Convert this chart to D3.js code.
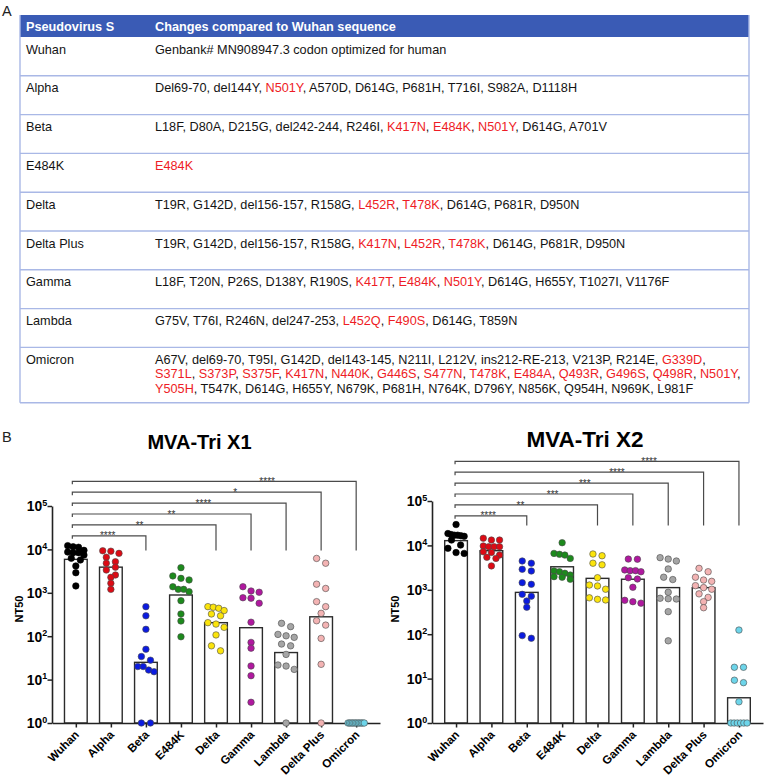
<!DOCTYPE html>
<html>
<head>
<meta charset="utf-8">
<script src="https://d3js.org/d3.v7.min.js"></script>
<style>
html,body{margin:0;padding:0;background:#fff;}
svg{display:block;}
</style>
</head>
<body>
<svg id="fig" width="766" height="777"></svg>
<script>
// ---------------- DATA ----------------
const tableHeader = ["Pseudovirus S", "Changes compared to Wuhan sequence"];
const tableVariants = ["Wuhan","Alpha","Beta","E484K","Delta","Delta Plus","Gamma","Lambda","Omicron"];
// [..] = mutation printed in red; each inner array entry is one printed line
const tableChanges = [
  ["Genbank# MN908947.3 codon optimized for human"],
  ["Del69-70, del144Y, [N501Y], A570D, D614G, P681H, T716I, S982A, D1118H"],
  ["L18F, D80A, D215G, del242-244, R246I, [K417N], [E484K], [N501Y], D614G, A701V"],
  ["[E484K]"],
  ["T19R, G142D, del156-157, R158G, [L452R], [T478K], D614G, P681R, D950N"],
  ["T19R, G142D, del156-157, R158G, [K417N], [L452R], [T478K], D614G, P681R, D950N"],
  ["L18F, T20N, P26S, D138Y, R190S, [K417T], [E484K], [N501Y], D614G, H655Y, T1027I, V1176F"],
  ["G75V, T76I, R246N, del247-253, [L452Q], [F490S], D614G, T859N"],
  ["A67V, del69-70, T95I, G142D, del143-145, N211I, L212V, ins212-RE-213, V213P, R214E, [G339D],",
   "[S371L], [S373P], [S375F], [K417N], [N440K], [G446S], [S477N], [T478K], [E484A], [Q493R], [G496S], [Q498R], [N501Y],",
   "[Y505H], T547K, D614G, H655Y, N679K, P681H, N764K, D796Y, N856K, Q954H, N969K, L981F"]
];

const categories = ["Wuhan","Alpha","Beta","E484K","Delta","Gamma","Lambda","Delta Plus","Omicron"];
const dotColors = ["#000000","#dd0a14","#0b1be0","#1c8a1c","#fbe40c","#b0189f","#a5a5a5","#f3b3b3","#6dd5ea"];
const yTickValues = [1,10,100,1000,10000,100000];

// MVA-Tri X1 (NT50 per animal)
const x1Wuhan     = [12200,11500,11200,9500,8400,8400,8700,7400,6250,5700,4150,2900,1440];
const x1Alpha     = [9300,9100,8100,6600,5200,4800,3900,3350,2570,2270,1660,1200];
const x1Beta      = [480,295,144,50,34,28,20,20,16.6,15.2,1,1];
const x1E484K     = [3800,2450,2150,1980,1380,1200,1200,1060,660,325,224,97];
const x1Delta     = [480,465,440,390,325,295,205,190,160,107,60,46];
const x1Gamma     = [1380,1100,1030,770,750,575,210,72,53,20.6,12.3,3];
const x1Lambda    = [198,166,110,102,94,66,60,38,21.7,20.5,17.2,1];
const x1DeltaPlus = [6200,4800,1580,1260,625,480,336,227,180,89,22.5,1];
const x1Omicron   = [1,1,1,1,1,1,1,1,1,1,1,1];
const x1GeoMean   = [5900,3900,25,890,205,157,42,280,1];
const x1Stars     = ["****","**","**","****","*","****"];

// MVA-Tri X2
const x2Wuhan     = [29500,18500,17500,17000,17000,16500,16000,13200,10200,8600,6900,6600];
const x2Alpha     = [14500,13200,13200,9700,9350,9350,9350,7200,6950,6050,5400,5100,3450];
const x2Beta      = [4450,3970,2900,2650,1450,1330,790,720,560,405,93,81];
const x2E484K     = [11500,6600,6300,6050,5100,2650,2550,2350,2150,1980,1920,1730];
const x2Delta     = [6400,5850,3970,3650,1870,1280,1220,1030,660,610,590];
const x2Gamma     = [4920,4880,2800,2700,2700,2550,1870,1750,1140,580,540,500];
const x2Lambda    = [5300,4920,4450,2950,1920,1700,880,645,630,620,322,71];
const x2DeltaPlus = [3040,2550,1920,1660,1550,1240,1120,1030,810,675,540,395];
const x2Omicron   = [124,18,18,9.2,8.1,3,1,1,1,1,1,1];
const x2GeoMean   = [12800,7600,875,3300,1810,1730,1120,1120,3.7];
const x2Stars     = ["****","**","***","***","****","****"];

const comparedTo  = ["Beta","Delta","Gamma","Lambda","Delta Plus","Omicron"];

// ---------------- DRAW ----------------
const FONT = "'Liberation Sans', Arial, Helvetica, sans-serif";
const RED = "#ee1c25", INK = "#141414";
const svg = d3.select("#fig");
svg.append("rect").attr("width",766).attr("height",777).attr("fill","#fff");

// panel letters
svg.append("text").attr("x",2).attr("y",15.5).text("A")
  .style("font-family",FONT).style("font-size","14.5px").attr("fill","#222");
svg.append("text").attr("x",2).attr("y",441.5).text("B")
  .style("font-family",FONT).style("font-size","14.5px").attr("fill","#222");

// ---------- table ----------
(function drawTable(){
  const tX0 = 20, tX1 = 749, c1 = 26, c2 = 155;
  const headTop = 15, headBot = 37, rowH = 38.8, lineH = 14.4, base = 16.5;
  const g = svg.append("g");
  g.append("rect").attr("x",tX0).attr("y",headTop).attr("width",tX1-tX0).attr("height",headBot-headTop)
    .attr("fill","#3a5bb5");
  g.selectAll("text.head").data(tableHeader).join("text")
    .attr("x",(d,i)=> i===0 ? c1 : c2).attr("y",headTop+15.5)
    .attr("fill","#fff").style("font-family",FONT).style("font-weight","bold").style("font-size","12.7px")
    .text(d=>d);

  function rich(sel, str){
    str.split(/(\[[^\]]*\])/).filter(s=>s.length).forEach(s=>{
      const red = s[0]==="[";
      sel.append("tspan").attr("fill", red?RED:INK).text(red ? s.slice(1,-1) : s);
    });
  }
  let top = headBot;
  const seps = [];
  tableVariants.forEach((v,i)=>{
    const lines = tableChanges[i];
    const h = Math.max(rowH, base + (lines.length-1)*lineH + 10);
    g.append("text").attr("x",c1).attr("y",top+base).attr("fill",INK)
      .style("font-family",FONT).style("font-size","12.7px").text(v);
    lines.forEach((ln,j)=>{
      const t = g.append("text").attr("x",c2).attr("y",top+base+j*lineH)
        .attr("xml:space","preserve").style("white-space","pre")
        .style("font-family",FONT).style("font-size","12.7px");
      rich(t, ln);
    });
    top += h;
    seps.push(top);
  });
  g.selectAll("line.sep").data(seps).join("line")
    .attr("x1",tX0).attr("x2",tX1).attr("y1",d=>d).attr("y2",d=>d)
    .attr("stroke","#a9b8e6").attr("stroke-width",1.4);
  [tX0,tX1].forEach(xx=>{
    g.append("line").attr("x1",xx).attr("x2",xx).attr("y1",headTop).attr("y2",top)
      .attr("stroke","#a9b8e6").attr("stroke-width",1.4);
  });
})();

// ---------- dot plots ----------
function swarm(vals, y, cx, r){
  const pts = vals.map(v=>({v, py:y(v)})).sort((a,b)=>a.py-b.py);
  const groups = [];
  pts.forEach(p=>{
    const g = groups[groups.length-1];
    if (g && p.py - g[0].py < 2*r*0.85) g.push(p); else groups.push([p]);
  });
  groups.forEach(g=>{
    const k = g.length;
    const s = k>1 ? Math.min(2.8*r, 5*r/(k-1)) : 0;
    g.forEach((p,i)=>{ p.px = cx + (i-(k-1)/2)*s; });
  });
  return pts;
}

function drawPlot(o){
  const g = svg.append("g");
  const x = d3.scalePoint().domain(categories).range([o.x0, o.x1]).padding(0.68);
  const y = d3.scaleLog().domain([1,1e5]).range([o.yBot, o.yTop]);
  const barW = 22.7, r = 3.25;

  // title
  g.append("text").attr("x",o.titleX).attr("y",o.titleY).attr("text-anchor","middle")
    .style("font-family",FONT).style("font-weight","bold").style("font-size",o.titleSize+"px")
    .attr("fill","#000").text(o.title);

  // brackets
  const wx = x("Wuhan") + o.leftOff;
  comparedTo.forEach((c,i)=>{
    const ly = o.brY0 - i*10.9;
    g.append("path")
      .attr("d",`M${wx},${ly+3}V${ly}H${x(c)}V${o.legEnd}`)
      .attr("fill","none").attr("stroke","#4a4a4a").attr("stroke-width",1.2);
    g.append("text").attr("x", x("Wuhan") + (i+1)*0.91*x.step()).attr("y", ly+3.6)
      .attr("text-anchor","middle").style("font-family",FONT).style("font-size","10px")
      .attr("fill","#333").text(o.stars[i]);
  });

  // bars (geometric mean)
  g.selectAll("rect.bar").data(o.gm).join("rect")
    .attr("x",(d,i)=>x(categories[i])-barW/2).attr("width",barW)
    .attr("y",d=>y(d)).attr("height",d=>y(1)-y(d))
    .attr("fill","#fff").attr("stroke","#2b2b2b").attr("stroke-width",1.4);

  // axes
  const ya = g.append("g").attr("transform",`translate(${o.x0},0)`)
    .call(d3.axisLeft(y).tickValues(yTickValues).tickSize(4.5).tickSizeOuter(0).tickFormat(""));
  ya.select(".domain").attr("stroke","#222").attr("stroke-width",1.6);
  ya.selectAll(".tick line").attr("stroke","#222").attr("stroke-width",1.5);
  g.selectAll("text.ylab").data(yTickValues).join("text")
    .attr("x",o.x0-4.8).attr("y",d=>y(d)+5.3).attr("text-anchor","end")
    .style("font-family",FONT).style("font-weight","bold").style("font-size","13.8px").attr("fill","#000")
    .each(function(d){
      const t = d3.select(this);
      t.append("tspan").text("10");
      t.append("tspan").attr("dy",-5.5).style("font-size","9px").text(Math.round(Math.log10(d)));
    });

  const xa = g.append("g").attr("transform",`translate(0,${o.yBot})`)
    .call(d3.axisBottom(x).tickSize(4.5).tickSizeOuter(0).tickFormat(""));
  xa.select(".domain").attr("stroke","#222").attr("stroke-width",1.6);
  xa.selectAll(".tick line").attr("stroke","#222").attr("stroke-width",1.5);
  g.selectAll("text.xlab").data(categories).join("text")
    .attr("transform",d=>`translate(${x(d)+4},${o.yBot+12.5}) rotate(-45)`)
    .attr("text-anchor","end")
    .style("font-family",FONT).style("font-weight","bold").style("font-size","11.6px").attr("fill","#000")
    .text(d=>d);

  // y title
  g.append("text").attr("transform",`translate(${o.nt50X},609) rotate(-90)`)
    .attr("text-anchor","middle").style("font-family",FONT).style("font-weight","bold")
    .style("font-size","11px").attr("fill","#000").text("NT50");

  // dots
  o.series.forEach((vals,i)=>{
    const pts = swarm(vals, y, x(categories[i]), r);
    g.selectAll(null).data(pts).join("circle")
      .attr("cx",d=>d.px).attr("cy",d=>d.py).attr("r",r)
      .attr("fill",dotColors[i])
      .attr("stroke", i===0 ? "#000" : "#4a4a4a").attr("stroke-width",0.6);
  });
}

drawPlot({
  x0:52, x1:380, yBot:723, yTop:506,
  title:"MVA-Tri X1", titleX:199.5, titleY:448.5, titleSize:20,
  series:[x1Wuhan,x1Alpha,x1Beta,x1E484K,x1Delta,x1Gamma,x1Lambda,x1DeltaPlus,x1Omicron],
  gm:x1GeoMean, stars:x1Stars, brY0:535.8, legEnd:550.5, leftOff:-3.5, nt50X:23
});
drawPlot({
  x0:432, x1:763, yBot:723, yTop:501,
  title:"MVA-Tri X2", titleX:585, titleY:447, titleSize:22.5,
  series:[x2Wuhan,x2Alpha,x2Beta,x2E484K,x2Delta,x2Gamma,x2Lambda,x2DeltaPlus,x2Omicron],
  gm:x2GeoMean, stars:x2Stars, brY0:515.8, legEnd:525.5, leftOff:-1, nt50X:399
});
</script>
</body>
</html>
